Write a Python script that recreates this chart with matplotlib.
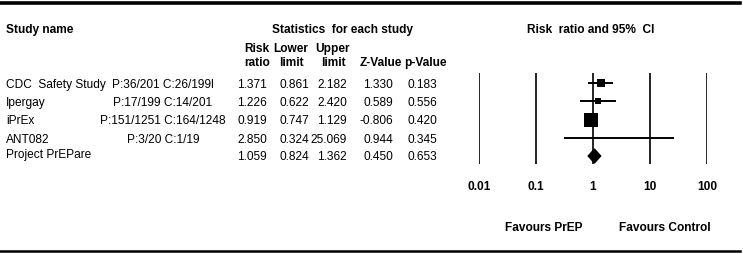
import numpy as np
import matplotlib.pyplot as plt
from matplotlib.patches import Polygon

plt.rcParams['font.family'] = ['Liberation Sans', 'DejaVu Sans']

# data
studies = ['CDC  Safety Study', 'Ipergay', 'iPrEx', 'ANT082', 'Project PrEPare']
events = ['P:36/201 C:26/199l', 'P:17/199 C:14/201', 'P:151/1251 C:164/1248', 'P:3/20 C:1/19', '']
risk_ratio = [1.371, 1.226, 0.919, 2.850, 1.059]
lower = [0.861, 0.622, 0.747, 0.324, 0.824]
upper = [2.182, 2.420, 1.129, 25.069, 1.362]
z_value = [1.330, 0.589, -0.806, 0.944, 0.450]
p_value = [0.183, 0.556, 0.420, 0.345, 0.653]
ticks = [0.01, 0.1, 1, 10, 100]
tick_labels = ['0.01', '0.1', '1', '10', '100']

W, H = 743, 255
fs = 8.6

fig = plt.figure(figsize=(W / 100, H / 100), dpi=100)

# background axes in pixel units for the table part
bg = fig.add_axes([0, 0, 1, 1])
bg.set_xlim(0, W)
bg.set_ylim(H, 0)
bg.axis('off')

bg.plot([0, 740], [4, 4], color='black', lw=2.6)
bg.plot([0, 740], [251.5, 251.5], color='black', lw=1.8)

bg.text(6, 30, 'Study name', fontsize=fs, fontweight='bold', ha='left', va='center')
bg.text(342, 30, 'Statistics  for each study', fontsize=fs, fontweight='bold', ha='center', va='center')
bg.text(591, 30, 'Risk  ratio and 95%  CI', fontsize=fs, fontweight='bold', ha='center', va='center')

col_right = [267, 309, 347, 393, 437]
col_head_x = [257, 291, 333, 381, 425]
head_top = ['Risk', 'Lower', 'Upper', '', '']
head_bot = ['ratio', 'limit', 'limit', 'Z-Value', 'p-Value']
for x, t, b in zip(col_head_x, head_top, head_bot):
    bg.text(x, 49, t, fontsize=fs, fontweight='bold', ha='center', va='center')
    bg.text(x, 63, b, fontsize=fs, fontweight='bold', ha='center', va='center')

row_y = [85.5, 103, 121.5, 140, 157]
cols = [risk_ratio, lower, upper, z_value, p_value]
for i, name in enumerate(studies):
    y = row_y[i]
    bg.text(6, y - (1.5 if i == len(studies) - 1 else 0), name, fontsize=fs, ha='left', va='center')
    bg.text(163, y, events[i], fontsize=fs, ha='center', va='center')
    for x, col in zip(col_right, cols):
        bg.text(x, y, f'{col[i]:.3f}', fontsize=fs, ha='right', va='center')

# forest plot axes: 0.01 at x=479, 100 at x=707, rows from y=74 to y=165
top, bot = 74, 165
ax = fig.add_axes([479 / W, 1 - bot / H, (707 - 479) / W, (bot - top) / H])
ax.set_xscale('log')
ax.set_xlim(0.01, 100)
row_h = 18.25
ax.set_ylim((bot - 84) / row_h, (top - 84) / row_h)
ax.patch.set_alpha(0)
for s in ax.spines.values():
    s.set_visible(False)

for t in ticks:
    ax.axvline(t, color='black', lw=1.2)

# marker size from inverse-variance weights
se = (np.log(upper) - np.log(lower)) / (2 * 1.96)
w = 1 / se ** 2
share = w[:4] / w[:4].sum()
side_px = 14 * (w[:4] / w[:4].max()) ** 0.345

for i in range(4):
    ax.plot([lower[i], upper[i]], [i, i], color='black', lw=1.4, clip_on=False)
    if share[i] > 0.01:
        ax.scatter(risk_ratio[i], i, marker='s', s=(side_px[i] * 0.72) ** 2,
                   color='black', edgecolors='none', zorder=3, clip_on=False)

# pooled diamond
k = 4
dh = 7 / row_h
diamond = Polygon([(lower[k], k), (risk_ratio[k], k - dh), (upper[k], k), (risk_ratio[k], k + dh)],
                  closed=True, color='black', zorder=3, clip_on=False)
ax.add_patch(diamond)

ax.set_xticks(ticks)
ax.set_xticklabels(tick_labels, fontsize=fs, fontweight='bold')
ax.xaxis.set_minor_locator(plt.NullLocator())
ax.tick_params(axis='x', length=0, pad=11.5)
ax.set_yticks([])

bg.text(544, 228, 'Favours PrEP', fontsize=fs, fontweight='bold', ha='center', va='center')
bg.text(665, 228, 'Favours Control', fontsize=fs, fontweight='bold', ha='center', va='center')

fig.savefig('out.png', dpi=100)
